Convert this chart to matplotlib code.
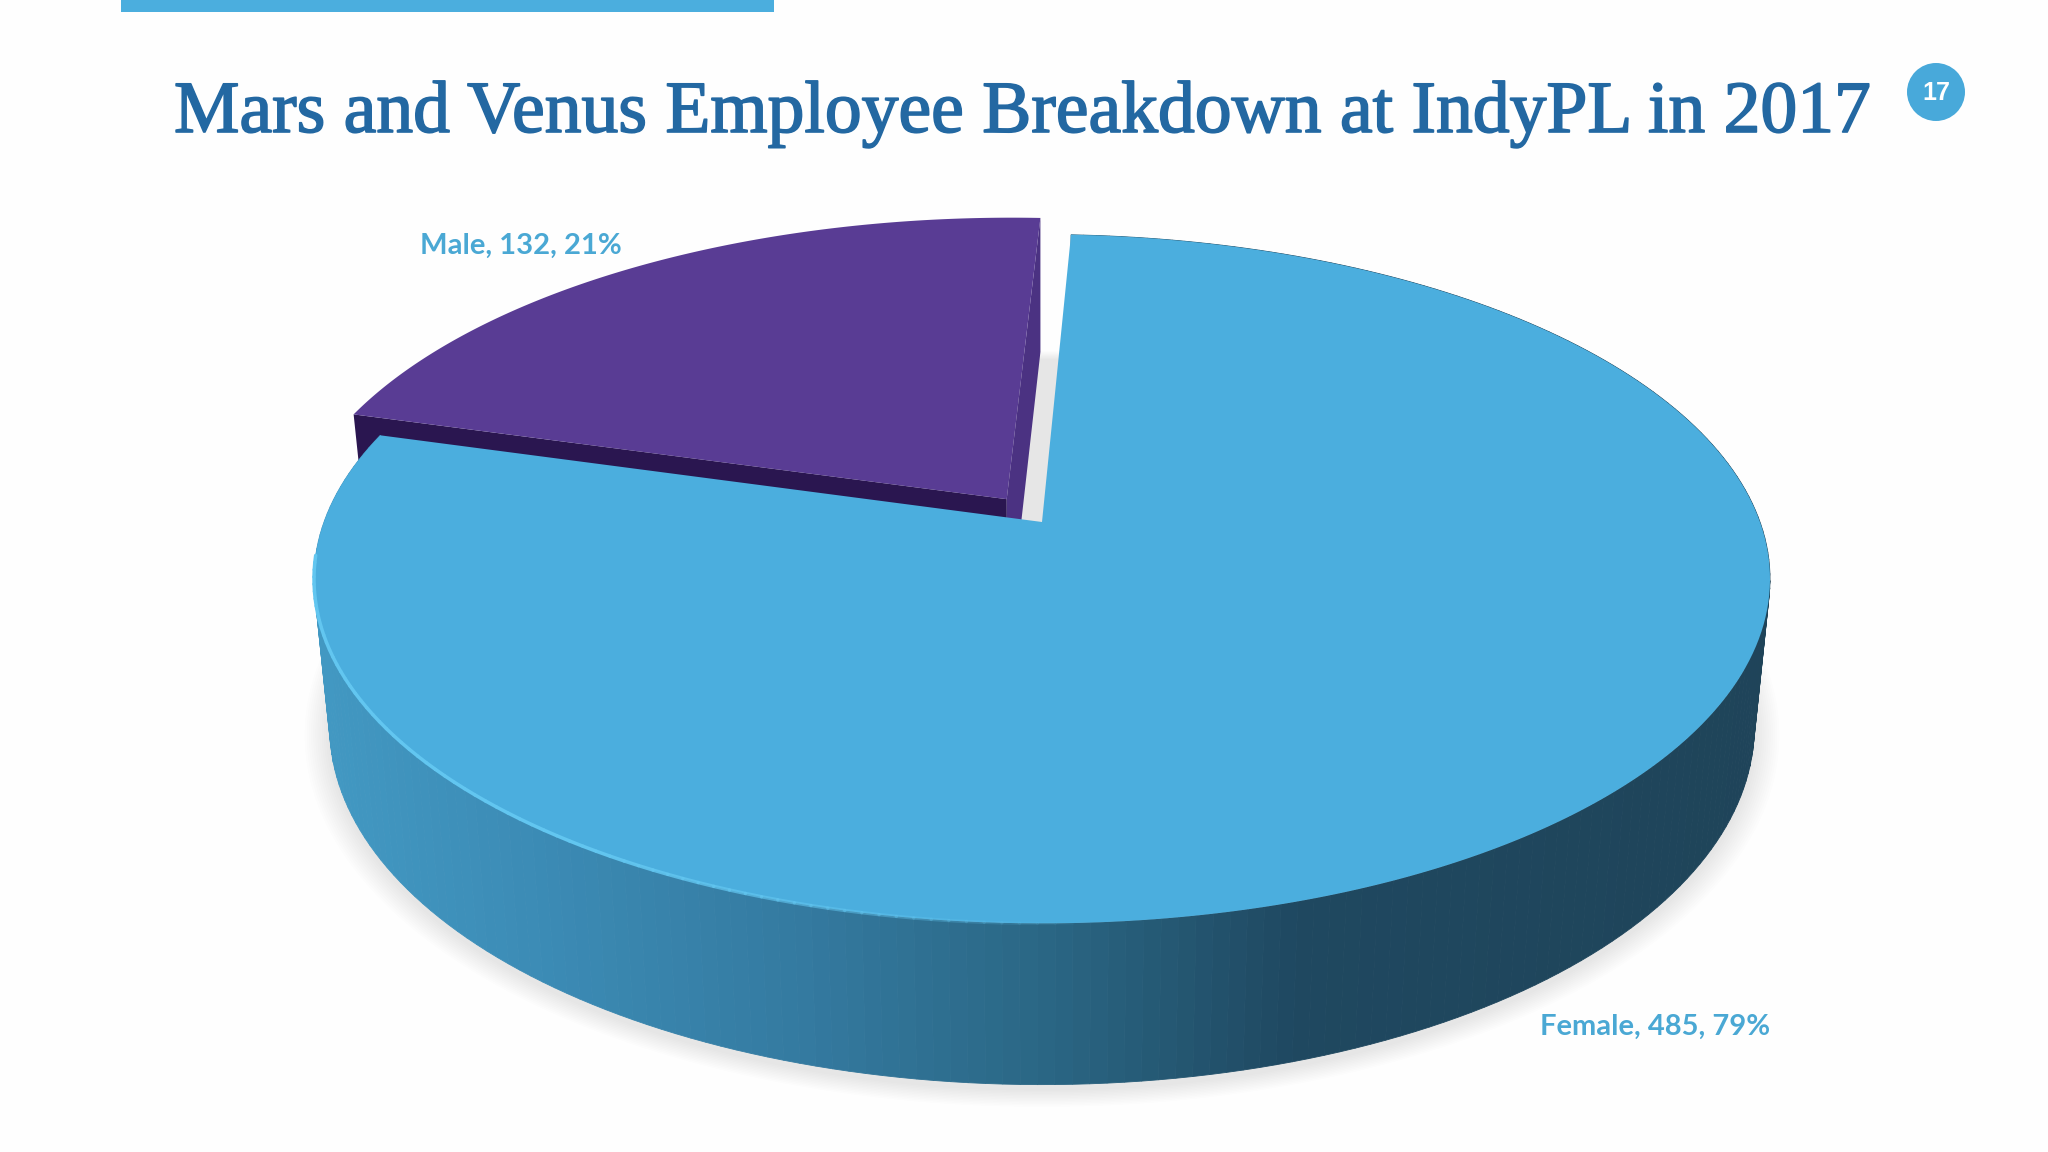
import numpy as np
import matplotlib.pyplot as plt
import matplotlib.patheffects as pe

categories = ["Female", "Male"]
counts = [485, 132]
percents = [79, 21]
title = "Mars and Venus Employee Breakdown at IndyPL in 2017"
page_number = "17"

start_angle = 2.7  # clockwise from 12 o'clock
male_explode = 0.085

blue = "#4baede"
purple = "#593c94"

# wall colour along the screen x axis
wall_x = [320, 520, 800, 1050, 1300, 1800]
wall_rgb = np.array([[66, 152, 194], [60, 140, 182], [52, 122, 160], [42, 102, 132], [31, 72, 96], [31, 68, 89]]) / 255


def project(x, y, base=False):
    # circle coordinates to pixels, the base sits lower and slightly smaller
    w = 1 + 0.1653 * y
    if base:
        return 1042 + 702.5 * x / w, 667.7 - 348 * y / w
    return 1042 + 718 * x / w, 522 - 335 * y / w


def arc(a0, a1, n=200):
    t = np.radians(np.linspace(a0, a1, n))
    return np.sin(t), np.cos(t)


fig = plt.figure(figsize=(20.48, 11.52), dpi=100, facecolor="#fefefe")
ax = fig.add_axes([0, 0, 1, 1])
ax.set_xlim(0, 2048)
ax.set_ylim(1152, 0)
ax.axis("off")

# header bar and page badge
ax.fill([121, 774, 774, 121], [0, 0, 12, 12], color=blue, lw=0)
ax.add_patch(plt.Circle((1936, 92), 29, color="#48a9da", lw=0))
ax.text(1936, 93, page_number, color="white", fontsize=18, fontweight="bold", family="Liberation Sans", ha="center", va="center")
# regular serif with a thin stroke, the original weight sits between regular and bold
ax.text(174, 132, title, color="#2368a2", fontsize=53, family="Liberation Serif", ha="left", va="baseline",
        path_effects=[pe.withStroke(linewidth=1.2, foreground="#2368a2")])

# soft shadow under the pie, reaches a bit further at the back
sx, sy = arc(0, 360, 360)
for grow in np.linspace(1.032, 1.0, 12):
    px, py = project(sx * grow, sy * grow + 0.05 * np.maximum(sy, 0) - 0.012, base=True)
    ax.fill(px, py, color="#5a5560", alpha=0.012, lw=0, zorder=1)

shares = np.array(counts) / sum(counts) * 360
female_end = start_angle + shares[0]
male_end = female_end + shares[1]

# male slice, pulled out along its bisector
mid = np.radians((female_end + male_end) / 2)
ox, oy = male_explode * np.sin(mid), male_explode * np.cos(mid)
mx, my = arc(female_end, male_end)
mx, my = mx + ox, my + oy

ax0, ay0 = project(ox, oy)
bx0, by0 = project(ox, oy, base=True)
tx, ty = project(mx, my)
ex, ey = project(mx, my, base=True)
ax.fill([ax0, tx[0], ex[0], bx0], [ay0, ty[0], ey[0], by0], color="#2a1650", lw=0, zorder=2)
ax.fill([ax0, tx[-1], ex[-1], bx0], [ay0, ty[-1], ey[-1], by0], color="#4b3282", lw=0, zorder=2)
ax.fill(np.r_[ax0, tx], np.r_[ay0, ty], color=purple, lw=0, zorder=3)

# female slice, wall as narrow bands then the top
fx, fy = arc(start_angle, female_end, 240)
tx, ty = project(fx, fy)
ex, ey = project(fx, fy, base=True)
for i in range(len(fx) - 1):
    mid_x = (tx[i] + tx[i + 1]) / 2
    c = [np.interp(mid_x, wall_x, wall_rgb[:, k]) for k in range(3)]
    ax.fill([tx[i], tx[i + 1], ex[i + 1], ex[i]], [ty[i], ty[i + 1], ey[i + 1], ey[i]], color=c, lw=0.6, ec=c, zorder=4)
cx, cy = project(0, 0)
ax.fill(np.r_[cx, tx], np.r_[cy, ty], color=blue, lw=0, zorder=5)

# lighter rim on the front left edge
for i in range(len(fx) - 1):
    if tx[i] < 1100 and ty[i] > 560:
        fade = min(1, (1100 - tx[i]) / 500)
        ax.plot(tx[i:i + 2], ty[i:i + 2], color="#62c6f0", lw=2.5, alpha=fade, zorder=6, solid_capstyle="round")

ax.text(1540, 1035, f"{categories[0]}, {counts[0]}, {percents[0]}%", color="#4aa8d4", fontsize=21, fontweight="bold", family="Lato", ha="left", va="baseline")
ax.text(420, 254, f"{categories[1]}, {counts[1]}, {percents[1]}%", color="#4aa8d4", fontsize=21, fontweight="bold", family="Lato", ha="left", va="baseline")

fig.savefig("out.png", dpi=100, facecolor=fig.get_facecolor())
